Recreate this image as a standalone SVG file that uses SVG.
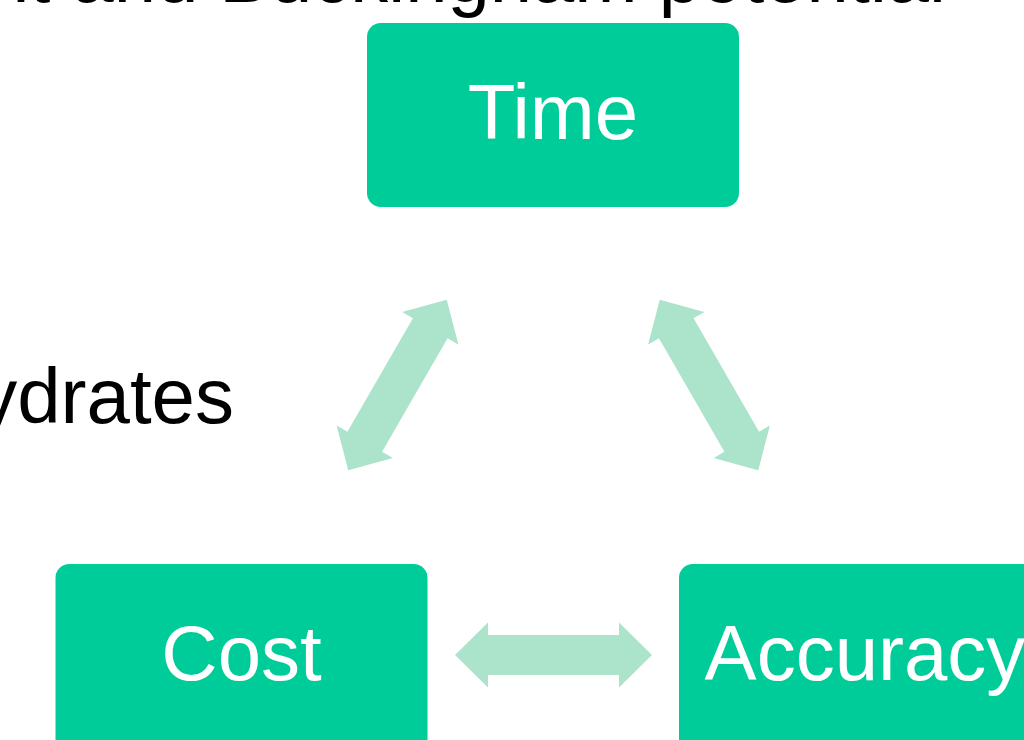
<svg xmlns="http://www.w3.org/2000/svg" width="1024" height="740" viewBox="0 0 1024 740">
  <style>
    .box { fill: #00CC99; }
    .label { font-family: "Liberation Sans", Arial, sans-serif; font-size: 78px; fill: #FFFFFF; text-anchor: middle; }
    .slide { font-family: "Liberation Sans", Arial, sans-serif; font-size: 78px; fill: #000000; }
    .link { fill: #ABE3CB; }
  </style>
  <defs>
    <!-- double-headed block arrow, centred on the origin, pointing along x -->
    <path id="dblArrow" d="M-98.5,0 L-65.5,-32.5 L-65.5,-20 L65.5,-20 L65.5,-32.5 L98.5,0 L65.5,32.5 L65.5,20 L-65.5,20 L-65.5,32.5 Z"/>
  </defs>
  <rect width="1024" height="740" fill="#FFFFFF"/>

  <!-- background slide text, partly off-canvas -->
  <text class="slide" x="946" y="2" text-anchor="end" style="font-size:76px">nt and Buckingham potential</text>
  <text class="slide" x="234" y="423" text-anchor="end">ydrates</text>

  <g id="connectors">
    <use href="#dblArrow" class="link" transform="translate(397.5,385) rotate(-60)"/>
    <use href="#dblArrow" class="link" transform="translate(709,385) rotate(60)"/>
    <use href="#dblArrow" class="link" transform="translate(553.5,655)"/>
  </g>

  <g id="node-time">
    <rect class="box" x="367" y="23" width="372" height="184" rx="14"/>
    <text class="label" x="553" y="139">Time</text>
  </g>
  <g id="node-cost">
    <rect class="box" x="55.5" y="564" width="372" height="200" rx="14"/>
    <text class="label" x="241.5" y="680">Cost</text>
  </g>
  <g id="node-accuracy">
    <rect class="box" x="679" y="564" width="372" height="200" rx="14"/>
    <text class="label" x="865" y="680">Accuracy</text>
  </g>
</svg>
